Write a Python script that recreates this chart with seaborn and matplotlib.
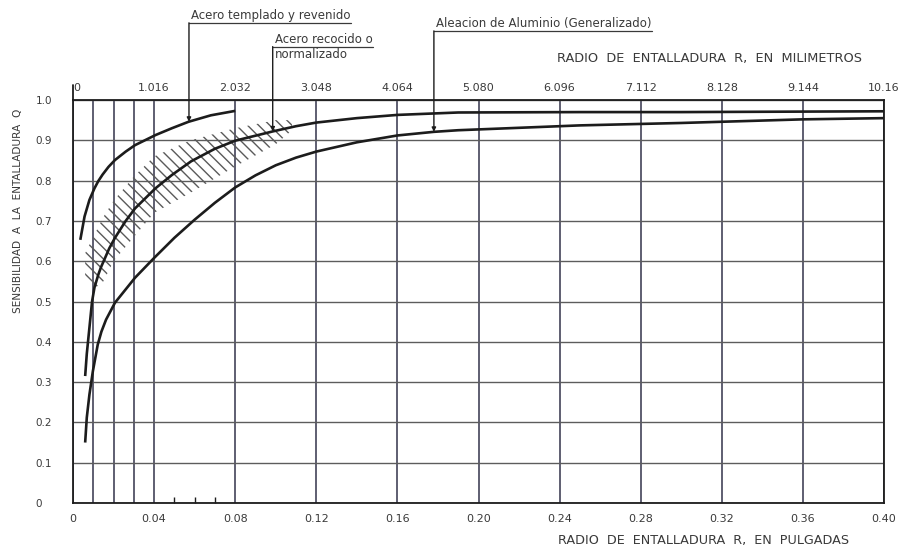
import numpy as np
import pandas as pd
import matplotlib
matplotlib.use("Agg")
import matplotlib.pyplot as plt
import seaborn as sns
from matplotlib.lines import Line2D

# ---------------- data ----------------
r_templado = [0.0036, 0.0057, 0.0081, 0.0106, 0.0125, 0.0146, 0.0175, 0.0207,
              0.026, 0.0306, 0.0407, 0.0488, 0.057, 0.068, 0.080]
q_templado = [0.653, 0.711, 0.752, 0.781, 0.799, 0.815, 0.834, 0.851,
              0.872, 0.888, 0.913, 0.930, 0.946, 0.962, 0.973]

r_recocido = [0.0060, 0.0068, 0.0081, 0.0094, 0.0106, 0.0125, 0.0138, 0.0179,
              0.0207, 0.026, 0.0306, 0.0407, 0.0488, 0.0583, 0.070, 0.080,
              0.0985, 0.110, 0.12, 0.14, 0.16, 0.19, 0.25, 0.30, 0.35, 0.40]
q_recocido = [0.315, 0.370, 0.435, 0.500, 0.535, 0.567, 0.585, 0.632,
              0.658, 0.700, 0.731, 0.781, 0.814, 0.848, 0.879, 0.899,
              0.922, 0.935, 0.944, 0.955, 0.963, 0.969, 0.970, 0.970, 0.971, 0.972]

r_aluminio = [0.0060, 0.0068, 0.0081, 0.0098, 0.0122, 0.0140, 0.0163, 0.0207,
              0.0306, 0.040, 0.050, 0.060, 0.070, 0.080, 0.090, 0.100, 0.110,
              0.12, 0.14, 0.16, 0.178, 0.19, 0.25, 0.30, 0.32, 0.36, 0.40]
q_aluminio = [0.150, 0.212, 0.269, 0.327, 0.393, 0.425, 0.455, 0.497,
              0.559, 0.608, 0.658, 0.703, 0.745, 0.783, 0.813, 0.838, 0.857,
              0.872, 0.895, 0.912, 0.921, 0.925, 0.937, 0.943, 0.946, 0.952, 0.955]

hatch_r = [0.006, 0.010, 0.015, 0.020, 0.030, 0.040, 0.058, 0.080, 0.100, 0.108]
hatch_lo = [0.55, 0.53, 0.55, 0.60, 0.66, 0.72, 0.77, 0.835, 0.89, 0.925]
hatch_hi = [0.62, 0.66, 0.71, 0.75, 0.81, 0.86, 0.90, 0.93, 0.950, 0.950]

labels_materiales = ["Acero templado y revenido", "Acero recocido o",
                     "Aleacion de Aluminio (Generalizado)"]
label_extra = "normalizado"
leader_r = [0.0572, 0.0985, 0.178]
leader_q = [0.946, 0.922, 0.921]

x_grid = [0.0, 0.01, 0.02, 0.03, 0.04, 0.08, 0.12, 0.16, 0.20, 0.24, 0.28, 0.32, 0.36, 0.40]
x_labels = ["0", "", "", "", "0.04", "0.08", "0.12", "0.16", "0.20", "0.24",
            "0.28", "0.32", "0.36", "0.40"]
x_small_ticks = [0.05, 0.06, 0.07]
mm_labels = ["0", "1.016", "2.032", "3.048", "4.064", "5.080", "6.096",
             "7.112", "8.128", "9.144", "10.16"]
y_ticks = [0.0, 0.1, 0.2, 0.3, 0.4, 0.5, 0.6, 0.7, 0.8, 0.9, 1.0]
y_labels = ["0", "0.1", "0.2", "0.3", "0.4", "0.5", "0.6", "0.7", "0.8", "0.9", "1.0"]

# ---------------- style ----------------
sns.set_style("white")
plt.rcParams["font.family"] = ["DejaVu Sans"]
plt.rcParams["hatch.linewidth"] = 1.0
plt.rcParams["hatch.color"] = "#5a5a5a"

INK = "#1c1c1c"
TXT = "#3a3a3a"

df = pd.concat([
    pd.DataFrame({"r": r_templado, "q": q_templado, "mat": "templado"}),
    pd.DataFrame({"r": r_recocido, "q": q_recocido, "mat": "recocido"}),
    pd.DataFrame({"r": r_aluminio, "q": q_aluminio, "mat": "aluminio"}),
], ignore_index=True)

fig = plt.figure(figsize=(9.02, 5.46), dpi=100)
ax = fig.add_axes([73 / 902, 43 / 546, 811 / 902, 403 / 546])

# hatched band
ax.fill_between(hatch_r, hatch_lo, hatch_hi, facecolor="none",
                edgecolor="#5a5a5a", hatch="\\\\\\", linewidth=0, zorder=2)

sns.lineplot(data=df, x="r", y="q", hue="mat",
             palette={"templado": INK, "recocido": INK, "aluminio": INK},
             estimator=None, sort=True, legend=False, linewidth=1.9,
             solid_joinstyle="round", solid_capstyle="butt",
             ax=ax, zorder=4)

ax.set_xlim(0, 0.40)
ax.set_ylim(0, 1.0)

# grid / ticks
ax.set_xticks(x_grid, labels=x_labels)
ax.set_xticks(x_small_ticks, minor=True)
ax.set_yticks(y_ticks, labels=y_labels)
ax.grid(True, which="major", axis="x", color="#33334a", linewidth=1.1)
ax.grid(True, which="major", axis="y", color="#5c5c5c", linewidth=1.0)
ax.set_axisbelow(True)
ax.tick_params(axis="x", which="major", length=0, pad=8, labelsize=8, labelcolor=TXT)
ax.tick_params(axis="x", which="minor", length=4, width=1, direction="in",
               top=True, bottom=True, color=INK)
ax.tick_params(axis="y", which="major", length=0, pad=27, labelsize=7.5, labelcolor=TXT)
for lab in ax.get_yticklabels():
    lab.set_horizontalalignment("left")

for sp in ax.spines.values():
    sp.set_visible(True)
    sp.set_color(INK)
    sp.set_linewidth(1.3)

# left spine stub above the top
ax.axvline(0, ymin=1.0, ymax=1.037, color=INK, linewidth=1.3, clip_on=False)

# top (millimetre) axis
ax2 = ax.twiny()
ax2.set_xlim(ax.get_xlim())
ax2.set_xticks([float(m) / 25.4 for m in mm_labels], labels=mm_labels)
ax2.tick_params(axis="x", length=0, pad=5, labelsize=8, labelcolor=TXT)
ax2.get_xticklabels()[0].set_horizontalalignment("left")
for sp in ax2.spines.values():
    sp.set_visible(False)
ax2.grid(False)

# axis labels
ax.set_xlabel("RADIO  DE  ENTALLADURA  R,  EN  PULGADAS", fontsize=9.2, color=TXT)
ax.xaxis.set_label_coords(0.777, -0.078)
ax2.set_xlabel("RADIO  DE  ENTALLADURA  R,  EN  MILIMETROS", fontsize=9.3, color=TXT)
ax2.xaxis.set_label_coords(0.785, 1.094)
ax.set_ylabel("SENSIBILIDAD  A  LA  ENTALLADURA  Q", fontsize=7.6, color=TXT)
ax.yaxis.set_label_coords(-0.062, 0.725)

# annotations with leader lines
text_y = [1.194, 1.135, 1.174]
texts = []
for name, rr, qq, ty in zip(labels_materiales, leader_r, leader_q, text_y):
    t = ax.text(rr + 0.0012, ty, name, transform=ax.get_xaxis_transform(),
                ha="left", va="bottom", fontsize=8.5, color=TXT, clip_on=False)
    texts.append(t)
t_extra = ax.text(leader_r[1] + 0.0012, 1.128, label_extra,
                  transform=ax.get_xaxis_transform(), ha="left", va="top",
                  fontsize=8.5, color=TXT, clip_on=False)

fig.canvas.draw()
renderer = fig.canvas.get_renderer()
inv = ax.transAxes.inverted()
for t, rr, qq in zip(texts, leader_r, leader_q):
    bb = t.get_window_extent(renderer)
    (x0, y0), (x1, _) = inv.transform([(bb.x0, bb.y0 - 1), (bb.x1, bb.y0 - 1)])
    xl = inv.transform(ax.transData.transform((rr, 0)))[0]
    ax.add_line(Line2D([xl, x1], [y0, y0], transform=ax.transAxes,
                       color=TXT, linewidth=0.9, clip_on=False))
    ax.annotate("", xy=(rr, qq), xycoords="data",
                xytext=(xl, y0), textcoords="axes fraction",
                arrowprops=dict(arrowstyle="-|>", color=INK, lw=1.0,
                                mutation_scale=6, shrinkA=0, shrinkB=0),
                annotation_clip=False, zorder=5)

fig.savefig("out.png", dpi=100, facecolor="white")
